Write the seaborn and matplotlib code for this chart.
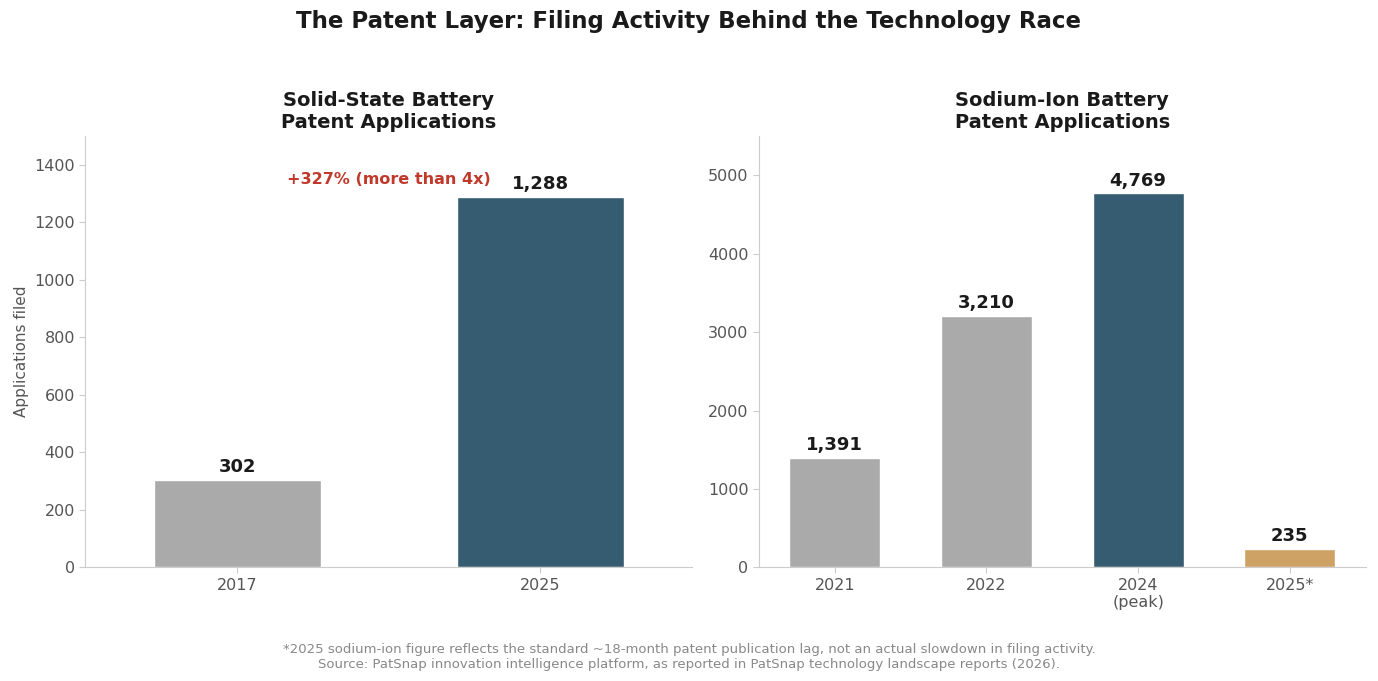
import matplotlib.pyplot as plt
import seaborn as sns

ss_years = ['2017', '2025']
ss_values = [302, 1288]
ss_colors = ['#aaaaaa', '#2c5f7c']

na_years = ['2021', '2022', '2024\n(peak)', '2025*']
na_values = [1391, 3210, 4769, 235]
na_colors = ['#aaaaaa', '#aaaaaa', '#2c5f7c', '#e0a352']

sns.set_style('ticks')
plt.rcParams['font.family'] = ['DejaVu Sans']

fig, (ax1, ax2) = plt.subplots(1, 2, figsize=(13.78, 6.81), dpi=100)
fig.subplots_adjust(left=0.062, right=0.991, top=0.80, bottom=0.167, wspace=0.11)


def style(ax):
    sns.despine(ax=ax)
    for s in ['left', 'bottom']:
        ax.spines[s].set_color('#cccccc')
    ax.tick_params(colors='#555555', labelsize=11.5)
    ax.tick_params(axis='x', length=4, color='#cccccc')
    ax.tick_params(axis='y', length=4, color='#cccccc')


sns.barplot(x=ss_years, y=ss_values, hue=ss_years, palette=ss_colors, legend=False,
            width=0.55, ax=ax1)
ax1.set_ylim(0, 1500)
ax1.set_ylabel('Applications filed', fontsize=11, color='#555555')
ax1.set_title('Solid-State Battery\nPatent Applications', fontsize=14, fontweight='bold', color='#1a1a1a')
for i, v in enumerate(ss_values):
    ax1.text(i, v + 15, f'{v:,}', ha='center', va='bottom', fontsize=13, fontweight='bold', color='#1a1a1a')
ax1.text(0.5, 1350, '+327% (more than 4x)', ha='center', va='center', fontsize=11.5,
         fontweight='bold', color='#c0392b')
style(ax1)

sns.barplot(x=na_years, y=na_values, hue=na_years, palette=na_colors, legend=False,
            width=0.6, ax=ax2)
ax2.set_ylim(0, 5500)
ax2.set_yticks([0, 1000, 2000, 3000, 4000, 5000])
ax2.set_title('Sodium-Ion Battery\nPatent Applications', fontsize=14, fontweight='bold', color='#1a1a1a')
for i, v in enumerate(na_values):
    ax2.text(i, v + 50, f'{v:,}', ha='center', va='bottom', fontsize=13, fontweight='bold', color='#1a1a1a')
style(ax2)

for ax in (ax1, ax2):
    ax.set_xlabel('')

fig.suptitle('The Patent Layer: Filing Activity Behind the Technology Race',
             fontsize=16.5, fontweight='bold', color='#1a1a1a', y=0.985)
fig.text(0.5, 0.035,
         '*2025 sodium-ion figure reflects the standard ~18-month patent publication lag, not an actual slowdown in filing activity.\n'
         'Source: PatSnap innovation intelligence platform, as reported in PatSnap technology landscape reports (2026).',
         ha='center', va='center', fontsize=9.5, color='#888888')

plt.savefig('out.png', dpi=100)
